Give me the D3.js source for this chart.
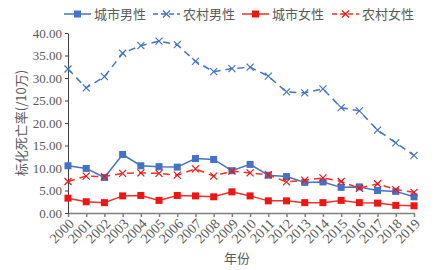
<!DOCTYPE html>
<html lang="zh">
  <head>
    <meta charset="utf-8" />
    <title>标化死亡率</title>
    <script src="https://cdnjs.cloudflare.com/ajax/libs/d3/7.8.5/d3.min.js"></script>
    <style>
      body { margin: 0; background: #fff; }
      .tick text { font-family: "Liberation Serif", "Times New Roman", serif; font-size: 13px; fill: #595959; }
      .x-axis .tick text { font-size: 14px; }
      .legend text, .title { font-family: "Noto Sans CJK SC", sans-serif; font-size: 13px; fill: #595959; }
    </style>
  </head>
  <body>
    <div id="chart"></div>
    <script>
      const years = ['2000','2001','2002','2003','2004','2005','2006','2007','2008','2009',
                     '2010','2011','2012','2013','2014','2015','2016','2017','2018','2019'];
      const urbanMale = [10.5, 9.9, 7.9, 13.0, 10.5, 10.3, 10.2, 12.1, 11.9, 9.4,
                         10.8, 8.4, 8.1, 6.8, 6.9, 5.7, 5.8, 5.0, 4.8, 3.6];
      const ruralMale = [32.0, 27.8, 30.3, 35.5, 37.2, 38.2, 37.4, 33.7, 31.4, 32.1,
                         32.4, 30.4, 26.9, 26.7, 27.6, 23.4, 22.7, 18.4, 15.6, 12.8];
      const urbanFemale = [3.3, 2.5, 2.3, 3.8, 3.9, 2.8, 3.9, 3.8, 3.6, 4.7,
                           3.8, 2.7, 2.7, 2.3, 2.3, 2.8, 2.3, 2.2, 1.7, 1.6];
      const ruralFemale = [7.0, 8.2, 8.1, 8.8, 8.9, 8.8, 8.4, 9.8, 8.2, 9.3,
                           8.9, 8.5, 6.9, 7.3, 7.8, 7.0, 5.5, 6.5, 5.2, 4.6];
      const yTicks = [0, 5, 10, 15, 20, 25, 30, 35, 40];

      const series = [
        { name: '城市男性', values: urbanMale, color: '#4472C4', lineColor: '#4472C4', dash: null, marker: 'square' },
        { name: '农村男性', values: ruralMale, color: '#4472C4', lineColor: '#4472C4', dash: '7,5', marker: 'cross' },
        { name: '城市女性', values: urbanFemale, color: '#EE1515', lineColor: '#F0302A', dash: null, marker: 'square' },
        { name: '农村女性', values: ruralFemale, color: '#EE1515', lineColor: '#F0302A', dash: '7,5', marker: 'cross' }
      ];

      const width = 435, height = 270;
      const margin = { top: 33, right: 21, bottom: 57, left: 68 };
      const innerW = width - margin.left - margin.right;
      const innerH = height - margin.top - margin.bottom;

      const svg = d3.select('#chart').append('svg')
        .attr('width', width)
        .attr('height', height);
      const g = svg.append('g')
        .attr('transform', `translate(${margin.left},${margin.top})`);

      const x = d3.scalePoint().domain(years).range([0, innerW]);
      const y = d3.scaleLinear().domain([0, 40]).range([innerH, 0]);

      // axes
      const xAxis = g.append('g')
        .attr('class', 'x-axis')
        .attr('transform', `translate(0,${innerH})`)
        .call(d3.axisBottom(x).tickSize(4).tickSizeOuter(0));
      xAxis.selectAll('.tick text')
        .attr('x', 0)
        .attr('y', 0)
        .attr('dy', '0.35em')
        .attr('text-anchor', 'end')
        .attr('transform', 'translate(3,8) rotate(-45)');

      const yAxis = g.append('g')
        .call(d3.axisLeft(y).tickValues(yTicks).tickFormat(d3.format('.2f')).tickSize(3).tickSizeOuter(0));
      yAxis.selectAll('.tick text').attr('x', -6);

      g.selectAll('.domain, .tick line').attr('stroke', '#808080').attr('stroke-width', 1.5);
      yAxis.selectAll('.domain, .tick line').attr('stroke', '#404040').attr('stroke-width', 1);

      // lines
      const line = d3.line()
        .x((d, i) => x(years[i]))
        .y(d => y(d));

      series.forEach(s => {
        g.append('path')
          .datum(s.values)
          .attr('fill', 'none')
          .attr('stroke', s.lineColor)
          .attr('stroke-width', 1.5)
          .attr('stroke-dasharray', s.dash)
          .attr('d', line);

        const pts = g.append('g');
        s.values.forEach((v, i) => {
          drawMarker(pts, s, x(years[i]), y(v));
        });
      });

      function drawMarker (sel, s, cx, cy) {
        if (s.marker === 'square') {
          sel.append('rect')
            .attr('x', cx - 3.5).attr('y', cy - 3.5)
            .attr('width', 7).attr('height', 7)
            .attr('fill', s.color);
        } else {
          sel.append('path')
            .attr('d', `M${cx - 3.5},${cy - 3.5}L${cx + 3.5},${cy + 3.5}M${cx - 3.5},${cy + 3.5}L${cx + 3.5},${cy - 3.5}`)
            .attr('stroke', s.color)
            .attr('stroke-width', 1.2);
        }
      }

      // legend
      const legendX = [64, 153, 242, 332];
      const legend = svg.append('g').attr('class', 'legend');
      series.forEach((s, i) => {
        const lg = legend.append('g').attr('transform', `translate(${legendX[i]},14)`);
        lg.append('line')
          .attr('x1', 0).attr('x2', 27)
          .attr('stroke', s.lineColor)
          .attr('stroke-width', 1.5)
          .attr('stroke-dasharray', s.dash ? '5,3' : null);
        drawMarker(lg, s, 13.5, 0);
        lg.append('text')
          .attr('x', 30).attr('dy', '0.35em')
          .text(s.name);
      });

      // axis titles
      svg.append('text')
        .attr('class', 'title')
        .attr('transform', `translate(21,${margin.top + innerH / 2}) rotate(-90)`)
        .attr('text-anchor', 'middle')
        .attr('dy', '0.35em')
        .text('标化死亡率(/10万)');

      svg.append('text')
        .attr('class', 'title')
        .attr('x', 237).attr('y', 258)
        .attr('text-anchor', 'middle')
        .attr('dy', '0.35em')
        .text('年份');
    </script>
  </body>
</html>
